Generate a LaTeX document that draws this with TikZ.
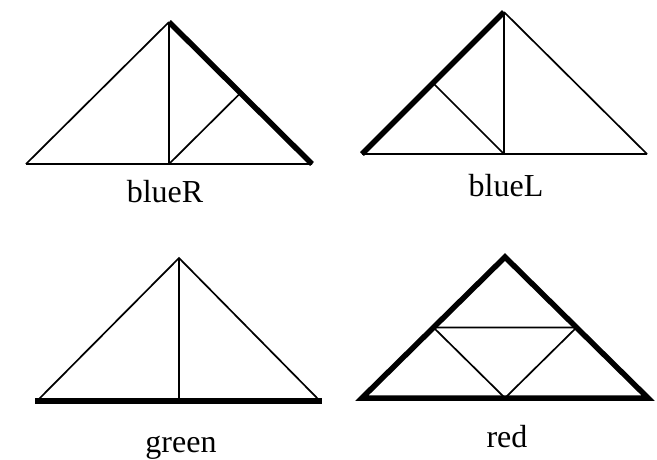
\documentclass[tikz,border=0pt]{standalone}
\usepackage{fontspec}
\setmainfont{Liberation Serif}
\usetikzlibrary{calc}

\begin{document}
\begin{tikzpicture}[
  x=1pt, y=-1pt,
  edge/.style={draw=black, line width=1.7pt},
  heavy/.style={draw=black, line width=5.5pt},
  caption/.style={font=\fontsize{32}{38}\selectfont, inner sep=0pt, anchor=base}
]
\useasboundingbox (0,0) rectangle (657,459);

% blueR
\coordinate (rL) at (26,164);
\coordinate (rT) at (169,22);
\coordinate (rR) at (312,164);
\coordinate (rB) at (169,164);
\draw [edge] (rL) -- (rT) (rL) -- (rR) (rT) -- (rB);
\draw [edge] (rB) -- ($(rT)!0.5!(rR)$);
\draw [heavy] (rT) -- (rR);
\node (capR) [caption] at (165,202) {blueR};

% blueL
\coordinate (lL) at (362,154);
\coordinate (lT) at (504,12);
\coordinate (lR) at (647,154);
\coordinate (lB) at (504,154);
\draw [edge] (lT) -- (lR) (lL) -- (lR) (lT) -- (lB);
\draw [edge] (lB) -- ($(lL)!0.5!(lT)$);
\draw [heavy] (lL) -- (lT);
\node (capL) [caption] at (506,196) {blueL};

% green
\coordinate (gL) at (37,401);
\coordinate (gT) at (179,258);
\coordinate (gR) at (320,401);
\coordinate (gB) at (179,401);
\draw [edge] (gL) -- (gT) -- (gR) (gT) -- (gB);
\draw [heavy] ([xshift=-2pt]gL) -- ([xshift=2pt]gR);
\node (capG) [caption] at (181,452) {green};

% red
\coordinate (dL) at (362,398);
\coordinate (dT) at (505,257);
\coordinate (dR) at (648,398);
\coordinate (dB) at (505,398);
\draw [edge] ($(dL)!0.5!(dT)$) -- ($(dR)!0.5!(dT)$) -- (dB) -- cycle;
\draw [heavy, line join=miter] (dL) -- (dT) -- (dR) -- cycle;
\node (capD) [caption] at (507,447) {red};
\end{tikzpicture}
\end{document}
